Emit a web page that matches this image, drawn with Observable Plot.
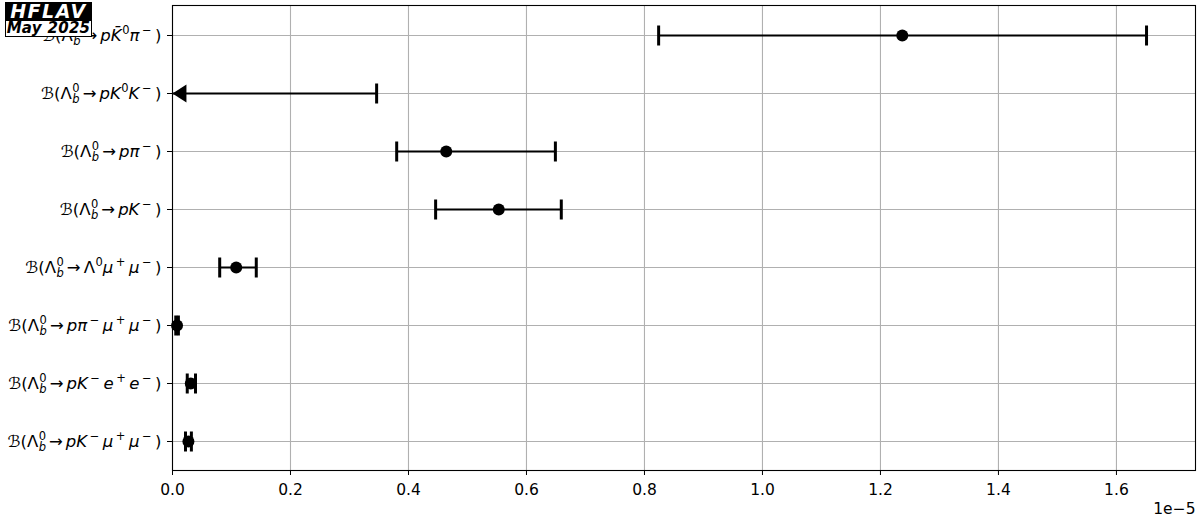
<!DOCTYPE html>
<html>
<head>
<meta charset="utf-8">
<script src="https://cdn.jsdelivr.net/npm/d3@7"></script>
<script src="https://cdn.jsdelivr.net/npm/@observablehq/plot@0.6"></script>
<style>
  html, body { margin: 0; padding: 0; background: #fff; }
  #wrap { position: relative; width: 1200px; height: 528px; font-family: "DejaVu Sans", sans-serif; }
  #logo { position: absolute; left: 5px; top: 2px; width: 87px; z-index: 2; }
  #logo .t1 { background: #000; color: #fff; font-weight: bold; font-style: italic; font-size: 19px; line-height: 18px; height: 18px; text-align: center; letter-spacing: 1.5px; }
  #logo .t2 { background: #fff; color: #000; border: 1px solid #000; font-weight: bold; font-style: italic; font-size: 15px; line-height: 15px; height: 15px; text-align: center; box-sizing: content-box; width: 85px; letter-spacing: 0.3px; }
  svg text { font-family: "DejaVu Sans", sans-serif; }
  svg g[aria-label="x-axis tick label"] text { font-size: 15.5px !important; }
  svg g[aria-label="text"] text { font-size: 15.5px !important; }
</style>
</head>
<body>
<div id="wrap">
  <div id="logo"><div class="t1">HFLAV</div><div class="t2">May 2025</div></div>
  <div id="chart"></div>
</div>
<script>
// ---- data (values in units of 1e-5) ----
const labels = [
  "ℬ(Λ_b^0→pK̄^0π^−)",
  "ℬ(Λ_b^0→pK^0K^−)",
  "ℬ(Λ_b^0→pπ^−)",
  "ℬ(Λ_b^0→pK^−)",
  "ℬ(Λ_b^0→Λ^0μ^+μ^−)",
  "ℬ(Λ_b^0→pπ^−μ^+μ^−)",
  "ℬ(Λ_b^0→pK^−e^+e^−)",
  "ℬ(Λ_b^0→pK^−μ^+μ^−)"
];
const centers = [1.237, null, 0.464, 0.553, 0.108, 0.0077, 0.031, 0.027];
const lows    = [0.824, 0,    0.380, 0.446, 0.080, 0.0055, 0.025, 0.022];
const highs   = [1.651, 0.346, 0.649, 0.659, 0.142, 0.0100, 0.039, 0.032];
const isUpperLimit = [false, true, false, false, false, false, false, false];
const xTicks = [0, 0.2, 0.4, 0.6, 0.8, 1.0, 1.2, 1.4, 1.6];
const offsetText = "1e−5";

const rows = labels.map((l, i) => ({label: l, c: centers[i], lo: lows[i], hi: highs[i], ul: isUpperLimit[i]}));
const measured = rows.filter(d => !d.ul);
const limits = rows.filter(d => d.ul);

const capSymbol = {
  draw(context, size) {
    const h = Math.sqrt(size / Math.PI);
    context.moveTo(0, -h);
    context.lineTo(0, h);
  }
};
const leftTriangle = {
  draw(context, size) {
    const h = Math.sqrt(size / Math.PI);
    context.moveTo(0, 0);
    context.lineTo(h * 1.55, -h);
    context.lineTo(h * 1.55, h);
    context.closePath();
  }
};

const plot = Plot.plot({
  width: 1200,
  height: 528,
  marginLeft: 172,
  marginRight: 5,
  marginTop: 5,
  marginBottom: 58,
  style: {fontFamily: "DejaVu Sans, sans-serif", fontSize: "15px", color: "#000", background: "#fff"},
  x: {domain: [0, 1.734]},
  y: {type: "point", domain: labels, padding: 0.5},
  marks: [
    Plot.gridX(xTicks, {stroke: "#b0b0b0", strokeOpacity: 1, strokeWidth: 1.1}),
    Plot.gridY(labels, {stroke: "#b0b0b0", strokeOpacity: 1, strokeWidth: 1.1}),
    Plot.frame({stroke: "#000", strokeWidth: 1.1}),
    Plot.axisX({ticks: xTicks, tickFormat: d3.format(".1f"), tickSize: 5, tickPadding: 8, fontSize: 15.5, label: null}),
    Plot.axisY({tickSize: 5, tickPadding: 6, fontSize: 16.5, label: null}),
    Plot.ruleY(rows, {y: "label", x1: "lo", x2: "hi", stroke: "#000", strokeWidth: 2.2}),
    Plot.dot(measured, {y: "label", x: "lo", symbol: capSymbol, r: 10, stroke: "#000", strokeWidth: 3, fill: "none"}),
    Plot.dot(rows, {y: "label", x: "hi", symbol: capSymbol, r: 10, stroke: "#000", strokeWidth: 3, fill: "none"}),
    Plot.dot(limits, {y: "label", x: "lo", symbol: leftTriangle, r: 9, fill: "#000", stroke: "none"}),
    Plot.dot(measured, {y: "label", x: "c", r: 6, fill: "#000", stroke: "none"}),
    Plot.text([offsetText], {frameAnchor: "bottom-right", textAnchor: "end", dy: 43, fontSize: 15.5, fill: "#000"})
  ]
});

// rich-text labels: italic variables, super/subscripts (stacked when _x^y)
const italic = new Set(["p", "K", "π", "μ", "e", "b"]);
const NS = "http://www.w3.org/2000/svg";
const SCRIPT = 11.5;
function richify(textEl) {
  const s = textEl.textContent;
  while (textEl.firstChild) textEl.removeChild(textEl.firstChild);
  let shift = 0; // current baseline offset
  let pendingDx = 0;
  const add = (str, opts = {}) => {
    const t = document.createElementNS(NS, "tspan");
    t.textContent = str;
    const target = opts.shift || 0;
    const dy = target - shift;
    if (dy) t.setAttribute("dy", dy);
    shift = target;
    const dx = (opts.dx || 0) + pendingDx;
    pendingDx = opts.after || 0;
    if (dx) t.setAttribute("dx", dx);
    if (opts.size) t.setAttribute("font-size", opts.size);
    if (italic.has(str[0])) t.setAttribute("font-style", "italic");
    textEl.appendChild(t);
  };
  const chars = Array.from(s);
  for (let i = 0; i < chars.length; i++) {
    const ch = chars[i];
    if (ch === "_") {
      const sub = chars[++i];
      if (chars[i + 1] === "^") {
        const sup = chars[i + 2];
        i += 2;
        add(sub, {shift: 4.5, size: SCRIPT, dx: 0.5});
        add(sup, {shift: -6.5, size: SCRIPT, dx: -7.3});
      } else {
        add(sub, {shift: 4.5, size: SCRIPT});
      }
    } else if (ch === "^") {
      const sup = chars[++i];
      const sign = sup === "−" || sup === "+";
      add(sup, {shift: -6.5, size: SCRIPT, dx: sign ? 2.5 : 0.5, after: sign ? 3.5 : 0});
    } else {
      let str = ch;
      if (chars[i + 1] === "\u0304") { str += chars[++i]; }
      if (ch === "→") { add("→", {shift: 0, dx: 3, after: 3}); continue; }
      add(str, {shift: 0});
    }
  }
  if (shift) {
    const t = document.createElementNS(NS, "tspan");
    t.setAttribute("dy", -shift);
    t.textContent = "\u200b";
    textEl.appendChild(t);
  }
}
plot.querySelectorAll('[aria-label="y-axis tick label"] text').forEach(richify);

document.getElementById("chart").appendChild(plot);
</script>
</body>
</html>
